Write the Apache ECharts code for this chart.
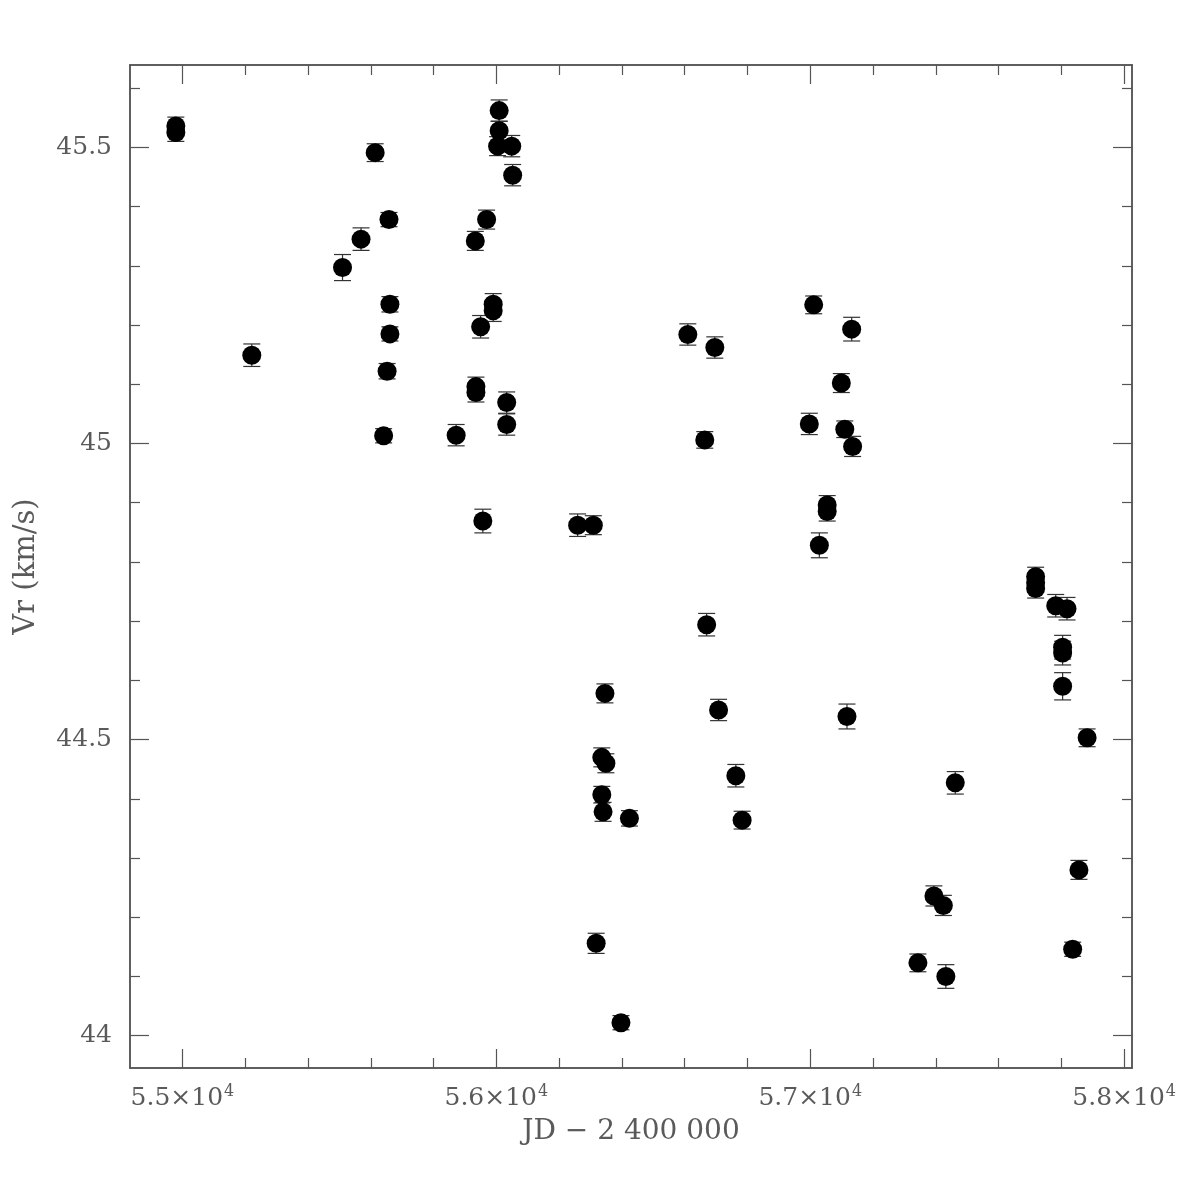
<!DOCTYPE html>
<html>
<head>
<meta charset="utf-8">
<script src="https://cdn.jsdelivr.net/npm/echarts@6/dist/echarts.min.js"></script>
<style>
html,body{margin:0;padding:0;background:#fff;}
#chart{width:1196px;height:1196px;}
</style>
</head>
<body>
<div id="chart"></div>
<script>
// Data
const jd = [54979,54979,55221,55510,55569,55614,55641,55652,55658,55661,55661,55872,55933,55935,55935,55950,55957,55969,55990,55990,56004,56009,56009,56033,56033,56049,56052,56259,56309,56318,56336,56336,56340,56346,56349,56397,56424,56610,56664,56670,56696,56708,56763,56783,56997,57011,57029,57054,57054,57099,57110,57117,57132,57135,57343,57394,57424,57432,57462,57718,57718,57718,57782,57804,57804,57804,57818,57836,57856,57882];
const vr = [45.536,45.525,45.149,45.297,45.345,45.491,45.013,45.122,45.378,45.235,45.185,45.014,45.342,45.096,45.086,45.197,44.869,45.378,45.235,45.224,45.502,45.562,45.528,45.069,45.032,45.502,45.453,44.862,44.862,44.156,44.470,44.407,44.378,44.578,44.460,44.022,44.367,45.184,45.006,44.694,45.162,44.550,44.439,44.364,45.033,45.234,44.828,44.896,44.885,45.102,45.024,44.539,45.193,44.995,44.123,44.236,44.220,44.100,44.427,44.775,44.765,44.755,44.726,44.656,44.646,44.590,44.721,44.146,44.280,44.503];
const err = [0.015,0.015,0.019,0.022,0.019,0.015,0.012,0.013,0.012,0.013,0.012,0.018,0.016,0.016,0.016,0.019,0.020,0.016,0.018,0.018,0.016,0.018,0.016,0.018,0.018,0.018,0.018,0.019,0.016,0.017,0.016,0.014,0.016,0.016,0.016,0.012,0.013,0.018,0.014,0.019,0.018,0.018,0.019,0.015,0.018,0.015,0.021,0.016,0.016,0.016,0.014,0.021,0.020,0.017,0.015,0.017,0.017,0.020,0.019,0.016,0.016,0.016,0.019,0.020,0.020,0.023,0.019,0.012,0.016,0.015];
const xMajor = [55000,56000,57000,58000];
const xMinor = [55200,55400,55600,55800,56200,56400,56600,56800,57200,57400,57600,57800];
const yMajor = [44,44.5,45,45.5];
const yMinor = [44.1,44.2,44.3,44.4,44.6,44.7,44.8,44.9,45.1,45.2,45.3,45.4,45.6];
const xRange = [54833, 58025];
const yRange = [43.9455, 45.639];
const xTitle = 'JD − 2 400 000';
const yTitle = 'Vr (km/s)';

const FONT = 'DejaVu Serif';
const TXT = '#5a5a5a';
const AX = '#555';

const pts = jd.map((x,i)=>[x, vr[i]]);
const ebars = jd.map((x,i)=>[x, vr[i]-err[i], vr[i]+err[i]]);

function xAx(pos, vals, len, labels, extra){
  return Object.assign({
    type:'value', position:pos, min:xRange[0], max:xRange[1],
    axisLine:{show:true, onZero:false, lineStyle:{color:AX, width:1.5}},
    axisTick:{show:true, inside:true, length:len, customValues:vals, lineStyle:{color:AX, width:1.2}},
    axisLabel: labels ? {
      show:true, customValues:vals, margin:16,
      formatter: v => '{m|' + (v/10000).toFixed(1) + '×10}{s|4}',
      rich:{
        m:{fontFamily:FONT, fontSize:25, color:TXT},
        s:{fontFamily:FONT, fontSize:16, color:TXT, verticalAlign:'top', padding:[0,0,12,1]}
      }
    } : {show:false},
    splitLine:{show:false}
  }, extra||{});
}
function yAx(pos, vals, len, labels, extra){
  return Object.assign({
    type:'value', position:pos, min:yRange[0], max:yRange[1],
    axisLine:{show:true, onZero:false, lineStyle:{color:AX, width:1.5}},
    axisTick:{show:true, inside:true, length:len, customValues:vals, lineStyle:{color:AX, width:1.2}},
    axisLabel: labels ? {
      show:true, customValues:vals, margin:18,
      fontFamily:FONT, fontSize:25, color:TXT,
      formatter: v => String(Math.round(v*10)/10)
    } : {show:false},
    splitLine:{show:false}
  }, extra||{});
}

const chart = echarts.init(document.getElementById('chart'), null, {renderer:'canvas'});
chart.setOption({
  animation:false,
  backgroundColor:'#fff',
  grid:{left:130, top:65, width:1002, height:1003},
  xAxis:[
    xAx('bottom', xMajor, 19, true, {name:xTitle, nameLocation:'middle', nameGap:50,
      nameTextStyle:{fontFamily:FONT, fontSize:28, color:TXT}}),
    xAx('bottom', xMinor, 10, false),
    xAx('top', xMajor, 19, false),
    xAx('top', xMinor, 10, false)
  ],
  yAxis:[
    yAx('left', yMajor, 19, true, {name:yTitle, nameLocation:'middle', nameGap:89,
      nameTextStyle:{fontFamily:FONT, fontSize:29, color:TXT}}),
    yAx('left', yMinor, 10, false),
    yAx('right', yMajor, 19, false),
    yAx('right', yMinor, 10, false)
  ],
  series:[
    {
      type:'custom', xAxisIndex:0, yAxisIndex:0, data:ebars, z:1,
      renderItem:(params, api)=>{
        const x = api.value(0);
        const lo = api.coord([x, api.value(1)]);
        const hi = api.coord([x, api.value(2)]);
        const hw = 8.5;
        const st = {stroke:'#333', lineWidth:1.2};
        return {type:'group', children:[
          {type:'line', shape:{x1:lo[0], y1:lo[1], x2:hi[0], y2:hi[1]}, style:st},
          {type:'line', shape:{x1:lo[0]-hw, y1:lo[1], x2:lo[0]+hw, y2:lo[1]}, style:st},
          {type:'line', shape:{x1:hi[0]-hw, y1:hi[1], x2:hi[0]+hw, y2:hi[1]}, style:st}
        ]};
      }
    },
    {
      type:'scatter', xAxisIndex:0, yAxisIndex:0, data:pts, z:2,
      symbol:'circle', symbolSize:19,
      itemStyle:{color:'#000', opacity:1}
    }
  ]
});
</script>
</body>
</html>
